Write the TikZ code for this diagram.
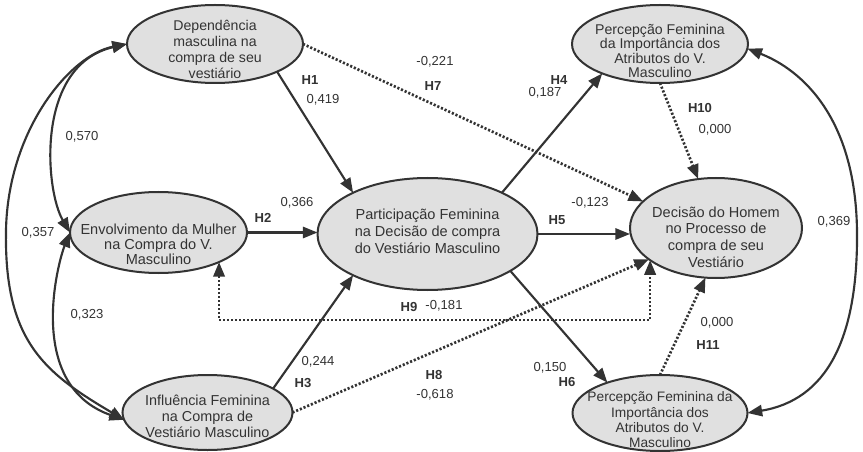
\documentclass[tikz,border=0pt]{standalone}
\usepackage{fontspec}
\setmainfont{Liberation Sans}
\usetikzlibrary{arrows.meta,shapes.geometric}
\definecolor{ln}{HTML}{333333}
\definecolor{fl}{HTML}{E0E0E0}
\definecolor{tx}{HTML}{333333}
\tikzset{
  ell/.style={ellipse, draw=ln, fill=fl, line width=1.5pt, inner sep=0pt, outer sep=0pt},
  etxt/.style={align=center, text=tx, inner sep=0pt},
  lab/.style={text=tx, inner sep=0pt, font=\fontsize{9.8}{11}\selectfont},
  hyp/.style={text=tx, inner sep=0pt, font=\fontsize{9.8}{11}\selectfont\bfseries},
  solidarrow/.style={draw=ln, line width=1.6pt, -{Triangle[length=11pt,width=8.5pt]}},
  dotarrow/.style={draw=ln, line width=2pt, dash pattern=on 1.6pt off 1.4pt, -{Triangle[length=11pt,width=8.5pt]}},
  dotboth/.style={draw=ln, line width=2pt, dash pattern=on 1.6pt off 1.4pt, {Triangle[length=11pt,width=8.5pt]}-{Triangle[length=11pt,width=8.5pt]}},
  cov/.style={draw=ln, line width=1.6pt, {Triangle[length=11pt,width=8.5pt]}-{Triangle[length=11pt,width=8.5pt]}},
}
\begin{document}
\begin{tikzpicture}[x=0.75pt,y=-0.75pt]
\useasboundingbox (0,0) rectangle (863,452);

% ellipses
\node[ell, minimum width=132pt, minimum height=58.5pt] (Dep) at (215,44) {};
\node[ell, minimum width=132.75pt, minimum height=60.75pt] (Env) at (158.5,232.5) {};
\node[ell, minimum width=127.5pt, minimum height=56.25pt] (Inf) at (207.5,412.5) {};
\node[ell, minimum width=165pt, minimum height=84pt] (Part) at (427.5,234) {};
\node[ell, minimum width=129pt, minimum height=75pt] (Dec) at (716,228) {};
\node[ell, minimum width=132pt, minimum height=58.5pt] (PercT) at (660,44) {};
\node[ell, minimum width=131.25pt, minimum height=57pt] (PercB) at (660,413) {};

% texts
\node[etxt, font=\fontsize{10.6}{12}\selectfont] (DepT) at (215,49) {Dependência\\masculina na\\compra de seu\\vestiário};
\node[etxt, font=\fontsize{10.6}{10.6}\selectfont] (PercTT) at (660,51) {Percepção Feminina\\da Importância dos\\Atributos do V.\\Masculino};
\node[etxt, font=\fontsize{10.9}{11.3}\selectfont] (EnvT) at (158.5,244) {Envolvimento da Mulher\\na Compra do V.\\Masculino};
\node[etxt, font=\fontsize{10.8}{12}\selectfont] (InfT) at (207.5,416) {Influência Feminina\\na Compra de\\Vestiário Masculino};
\node[etxt, font=\fontsize{10.9}{12.75}\selectfont] (PartT) at (427.5,231) {Participação Feminina\\na Decisão de compra\\do Vestiário Masculino};
\node[etxt, font=\fontsize{10.9}{12.5}\selectfont] (DecT) at (716,237) {Decisão do Homem\\no Processo de\\compra de seu\\Vestiário};
\node[etxt, font=\fontsize{10.3}{11.5}\selectfont] (PercBT) at (660,420) {Percepção Feminina da\\Importância dos\\Atributos do V.\\Masculino};

% coordinates for connector bends
\coordinate (c357) at (6,230);
\coordinate (c369) at (857,232);
\coordinate (h9y) at (0,320);

% hypotheses (solid)
\draw[solidarrow] (Dep.-24) -- (Part.151);
\draw[solidarrow] (Env.east) -- (Env.east -| Part.west);
\draw[solidarrow] (Inf.20) -- (Part.209);
\draw[solidarrow] (Part.29) -- (PercT.207);
\draw[solidarrow] (Part.east) -- (Part.east -| Dec.west);
\draw[solidarrow] (Part.-24) -- (PercB.150);

% hypotheses (dotted)
\draw[dotarrow] (Dep.east) -- (Dec.160);
\draw[dotarrow] (Inf.east) -- (Dec.205);
\draw[dotboth] (Env.-26) -- (Env.-26 |- h9y) -- (Dec.206 |- h9y) -- (Dec.206);
\draw[dotarrow] (PercT.south) -- (Dec.110);
\draw[dotarrow] (PercB.north) -- (Dec.258);

% covariances
\draw[cov] (Dep.west) .. controls (35,65) and (45,190) .. (Env.west);
\draw[cov] (Dep.west) .. controls (70,55) and (8,130) .. (c357) .. controls (4,340) and (43,372) .. (Inf.185);
\draw[cov] (Env.west) .. controls (58,262) and (25,385) .. (Inf.185);
\draw[cov] (PercT.-3) .. controls (802,70) and (856,118) .. (c369) .. controls (858,340) and (826,400) .. (PercB.east);

% labels
\node[hyp] (lH1) at (310,80) {H1};
\node[lab] (v419) at (323,100) {0,419};
\node[lab] (v221) at (435,62) {-0,221};
\node[hyp] (lH7) at (433,86) {H7};
\node[lab] (v570) at (82,137) {0,570};
\node[lab] (v366) at (297,203) {0,366};
\node[hyp] (lH2) at (263,218) {H2};
\node[lab] (v357) at (38,233) {0,357};
\node[lab] (v323) at (87,315) {0,323};
\node[lab] (v244) at (318,362) {0,244};
\node[hyp] (lH3) at (303,383) {H3};
\node[hyp] (lH8) at (434,375) {H8};
\node[lab] (v618) at (435,395) {-0,618};
\node[hyp] (lH9) at (409,307) {H9};
\node[lab] (v181) at (444,306) {-0,181};
\node[hyp] (lH4) at (559,80) {H4};
\node[lab] (v187) at (545,93) {0,187};
\node[hyp] (lH10) at (700,108) {H10};
\node[lab] (v000a) at (715,130) {0,000};
\node[lab] (v123) at (590,203) {-0,123};
\node[hyp] (lH5) at (557,220) {H5};
\node[lab] (v369) at (834,222) {0,369};
\node[lab] (v000b) at (717,323) {0,000};
\node[hyp] (lH11) at (708,345) {H11};
\node[lab] (v150) at (550,368) {0,150};
\node[hyp] (lH6) at (567,382) {H6};
\end{tikzpicture}
\end{document}
